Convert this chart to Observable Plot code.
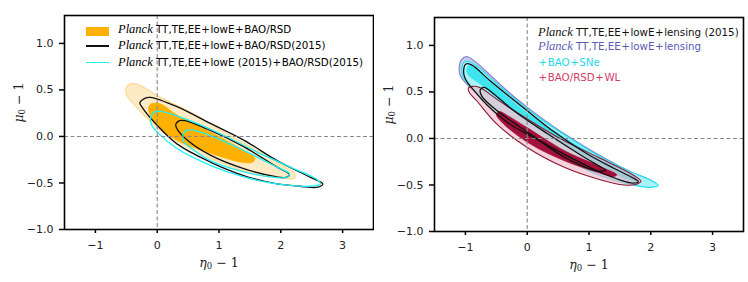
<!DOCTYPE html>
<html><head><meta charset="utf-8">
<script src="https://cdn.jsdelivr.net/npm/d3@7"></script>
<script src="https://cdn.jsdelivr.net/npm/@observablehq/plot@0.6"></script>
<style>
body{margin:0;background:#fff;}
#wrap{position:relative;width:748px;height:282px;overflow:hidden;background:#fff;}
.pl{position:absolute;top:0;}
.leg{position:absolute;font-family:"DejaVu Sans";font-size:10.3px;white-space:nowrap;line-height:14px;}
.row{position:absolute;left:0;height:14px;}
.pk{font-family:"Liberation Serif";font-style:italic;font-size:12.5px;}
.op{padding:0 0.5px;}
.sw{position:absolute;}
</style>
</head><body><div id="wrap"></div>
<script>
// ---------- data (η0−1, μ0−1) ----------
const xTicks = [-1, 0, 1, 2, 3];
const yTicks = [-1, -0.5, 0, 0.5, 1];

// Left panel
const orange95 = [[-0.51,0.50],[-0.45,0.56],[-0.32,0.56],[-0.15,0.50],[0.05,0.42],[0.59,0.245],[1.13,0.03],[1.67,-0.17],[2.05,-0.32],[2.22,-0.40],[2.22,-0.45],[2.05,-0.45],[1.67,-0.42],[1.13,-0.31],[0.59,-0.15],[0.05,0.065],[-0.20,0.22],[-0.38,0.35],[-0.49,0.44]];
const orange68 = [[-0.14,0.31],[-0.10,0.35],[0.05,0.35],[0.32,0.23],[0.86,0.047],[1.40,-0.15],[1.58,-0.23],[1.55,-0.275],[1.40,-0.28],[0.86,-0.18],[0.32,-0.04],[0.0,0.12],[-0.12,0.24]];
const black95L = [[-0.28,0.36],[-0.20,0.41],[-0.11,0.42],[0.32,0.32],[0.86,0.14],[1.40,-0.04],[1.94,-0.26],[2.48,-0.44],[2.68,-0.51],[2.60,-0.545],[2.30,-0.535],[1.94,-0.51],[1.40,-0.42],[0.86,-0.275],[0.32,-0.08],[-0.05,0.155],[-0.24,0.31]];
const black68L = [[0.30,0.13],[0.36,0.17],[0.45,0.17],[0.86,0.065],[1.40,-0.11],[1.94,-0.33],[2.14,-0.41],[2.08,-0.44],[1.90,-0.43],[1.40,-0.345],[0.86,-0.20],[0.49,-0.04],[0.33,0.07]];
const cyan95L = [[-0.11,0.18],[-0.05,0.26],[0.05,0.27],[0.59,0.155],[1.13,-0.006],[1.67,-0.185],[2.21,-0.345],[2.58,-0.46],[2.64,-0.51],[2.45,-0.535],[1.94,-0.51],[1.40,-0.435],[0.86,-0.31],[0.32,-0.13],[0.0,0.047],[-0.09,0.12]];
const cyan68L = [[0.41,-0.01],[0.46,0.06],[0.55,0.07],[0.86,0.01],[1.40,-0.15],[1.94,-0.33],[2.14,-0.40],[2.10,-0.44],[2.00,-0.445],[1.40,-0.38],[0.86,-0.26],[0.49,-0.095],[0.42,-0.05]];

// Right panel
const purple95 = [[-1.10,0.76],[-1.06,0.85],[-0.98,0.88],[-0.85,0.83],[-0.55,0.65],[-0.27,0.48],[0.05,0.31],[0.60,0.05],[1.14,-0.17],[1.68,-0.36],[2.00,-0.45],[2.10,-0.50],[1.95,-0.51],[1.79,-0.49],[1.14,-0.38],[0.60,-0.20],[0.05,0.0],[-0.49,0.30],[-0.92,0.545],[-1.08,0.67]];
const cyan95R = [[-1.06,0.75],[-1.02,0.82],[-0.95,0.83],[-0.80,0.77],[-0.55,0.62],[-0.27,0.46],[0.05,0.29],[0.60,0.04],[1.14,-0.18],[1.68,-0.36],[2.00,-0.45],[2.12,-0.505],[2.00,-0.525],[1.79,-0.51],[1.14,-0.39],[0.60,-0.21],[0.05,-0.01],[-0.49,0.29],[-0.90,0.54],[-1.04,0.67]];
const cyan68R = [[-0.98,0.73],[-0.93,0.79],[-0.82,0.75],[-0.55,0.58],[-0.27,0.42],[0.05,0.25],[0.60,0.01],[1.14,-0.20],[1.60,-0.36],[1.80,-0.45],[1.65,-0.45],[1.14,-0.27],[0.60,-0.07],[0.05,0.16],[-0.40,0.38],[-0.75,0.58],[-0.95,0.68]];
const crimson95 = [[-0.95,0.545],[-0.88,0.56],[-0.76,0.545],[-0.49,0.42],[0.0,0.21],[0.60,-0.025],[1.14,-0.20],[1.68,-0.38],[1.84,-0.46],[1.75,-0.495],[1.57,-0.50],[1.14,-0.435],[0.60,-0.31],[0.0,-0.097],[-0.49,0.154],[-0.81,0.40],[-0.94,0.50]];
const crimson68 = [[-0.50,0.26],[-0.45,0.29],[-0.30,0.24],[0.0,0.117],[0.60,-0.13],[1.14,-0.29],[1.45,-0.39],[1.40,-0.41],[1.14,-0.365],[0.60,-0.24],[0.05,-0.06],[-0.38,0.154]];
const black95R = [[-1.03,0.72],[-0.99,0.80],[-0.90,0.79],[-0.60,0.62],[-0.27,0.44],[0.05,0.27],[0.43,0.074],[0.98,-0.17],[1.40,-0.32],[1.70,-0.42],[1.80,-0.465],[1.70,-0.48],[1.52,-0.45],[1.14,-0.35],[0.60,-0.17],[0.05,0.03],[-0.27,0.15],[-0.65,0.36],[-0.84,0.50],[-1.00,0.64]];
const black68R = [[-0.76,0.52],[-0.70,0.55],[-0.60,0.51],[-0.22,0.30],[0.33,0.05],[0.87,-0.18],[1.20,-0.31],[1.27,-0.34],[1.14,-0.35],[0.60,-0.20],[0.05,0.047],[-0.49,0.30],[-0.73,0.45]];

const legendLeft = ["TT,TE,EE+lowE+BAO/RSD","TT,TE,EE+lowE+BAO/RSD(2015)","TT,TE,EE+lowE (2015)+BAO/RSD(2015)"];
const legendRight = ["TT,TE,EE+lowE+lensing (2015)","TT,TE,EE+lowE+lensing","+BAO+SNe","+BAO/RSD+WL"];

// ---------- drawing ----------
const X = d => d[0], Y = d => d[1];
const closed = "catmull-rom-closed";
function shape(data, o) { return Plot.line(data, {x: X, y: Y, curve: closed, fill: "none", ...o}); }
const fmtY = d => d.toFixed(1).replace("-", "\u2212");
const fmtX = d => String(d).replace("-", "\u2212");

function common(ml, mr, mt, mb, marks) {
  return Plot.plot({
    width: 374, height: 282,
    marginLeft: ml, marginRight: mr, marginTop: mt, marginBottom: mb,
    x: {domain: [-1.5, 3.5], label: null},
    y: {domain: [-1, 1.3], label: null},
    style: {fontFamily: "DejaVu Sans", fontSize: "11px", background: "transparent", color: "#222"},
    marks: [
      ...marks,
      Plot.ruleX([0], {stroke: "#888", strokeDasharray: "4,2.5", strokeWidth: 1.1}),
      Plot.ruleY([0], {stroke: "#888", strokeDasharray: "4,2.5", strokeWidth: 1.1}),
      Plot.frame({stroke: "black", strokeWidth: 1.6}),
      Plot.axisX({ticks: xTicks, tickFormat: fmtX, tickSize: 4, tickPadding: 8, stroke: "black", strokeWidth: 1.5, label: null}),
      Plot.axisY({ticks: yTicks, tickFormat: fmtY, tickSize: 5, tickPadding: 6, stroke: "black", strokeWidth: 1.5, label: null}),
      Plot.text(["η₀ − 1"], {frameAnchor: "bottom", dy: 37, text: d => d, fontSize: 12.5}),
      Plot.text(["μ₀ − 1"], {frameAnchor: "left", dx: -46, rotate: -90, text: d => d, fontSize: 12.5})
    ]
  });
}

const left = common(64, 1, 15, 53, [
  shape(orange95, {fill: "#feebc6", stroke: "#ffd891", strokeWidth: 1.2}),
  shape(orange68, {fill: "#ffb000", stroke: "#ffb000", strokeWidth: 0.8}),
  shape(black95L, {stroke: "#111", strokeWidth: 1.3}),
  shape(black68L, {stroke: "#111", strokeWidth: 1.3}),
  shape(cyan95L, {stroke: "#1ef0f5", strokeWidth: 1.3}),
  shape(cyan68L, {stroke: "#1ef0f5", strokeWidth: 1.3})
]);

const right = common(60, 5, 17, 51, [
  shape(purple95, {fill: "#cbcbef", stroke: "#8585cc", strokeWidth: 1.2}),
  shape(cyan95R, {fill: "#a9f3f7", stroke: "#20e2ee", strokeWidth: 1.2}),
  shape(cyan68R, {fill: "#3ee4ee", stroke: "#3ee4ee", strokeWidth: 0.6}),
  shape(crimson95, {fill: "#f2b6c6", fillOpacity: 0.6, stroke: "#8a1a3a", strokeWidth: 1.1}),
  shape(crimson68, {fill: "#a50f3c", stroke: "#a50f3c", strokeWidth: 0.6}),
  shape(black95R, {stroke: "#111", strokeWidth: 1.3}),
  shape(black68R, {stroke: "#111", strokeWidth: 1.3})
]);

function mathify(svg, str, sym) {
  d3.select(svg).selectAll("text").each(function() {
    if (this.textContent === str) {
      const t = d3.select(this);
      t.text(null).attr("font-family", "DejaVu Serif");
      t.append("tspan").attr("font-style", "italic").text(sym);
      t.append("tspan").attr("font-size", 8.5).attr("dy", 2.5).text("0");
      t.append("tspan").attr("dy", -2.5).text(" \u2212 1");
    }
  });
}
for (const s of [left, right]) { mathify(s, "η₀ − 1", "η"); mathify(s, "μ₀ − 1", "μ"); }

const wrap = document.getElementById("wrap");
left.classList.add("pl"); left.style.left = "0px";
right.classList.add("pl"); right.style.left = "374px";
wrap.appendChild(left); wrap.appendChild(right);

function txt(s) { return s.replace(/\+/g, '<span class="op">+</span>'); }

// left legend
const lg = document.createElement("div");
lg.className = "leg"; lg.style.left = "86px"; lg.style.top = "0px";
const sw = [
  '<div class="sw" style="left:0;top:4.5px;width:23px;height:9px;background:#ffb000"></div>',
  '<div class="sw" style="left:0;top:7px;width:23px;height:1.5px;background:#111"></div>',
  '<div class="sw" style="left:0;top:7px;width:23px;height:1.5px;background:#1ef0f5"></div>'
];
const rowsL = [22, 38, 54.7];
lg.innerHTML = legendLeft.map((s, i) =>
  `<div class="row" style="top:${rowsL[i]}px">${sw[i]}<div style="position:absolute;left:32px;top:0"><span class="pk">Planck</span> ${txt(s)}</div></div>`
).join("");
wrap.appendChild(lg);

// right legend
const rg = document.createElement("div");
rg.className = "leg"; rg.style.left = "538px"; rg.style.top = "0px";
const colsR = ["#111", "#5a5ab4", "#1ed8ea", "#d0406a"];
const rowsR = [24.7, 39.3, 54.7, 69.7];
rg.innerHTML = legendRight.map((s, i) =>
  `<div class="row" style="top:${rowsR[i]}px;color:${colsR[i]}">${i < 2 ? '<span class="pk">Planck</span> ' : ''}${txt(s)}</div>`
).join("");
wrap.appendChild(rg);
</script>
</body></html>
